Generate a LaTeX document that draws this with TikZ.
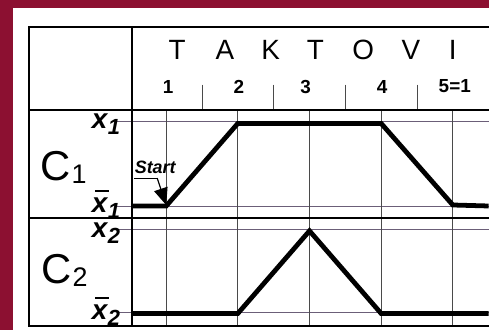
\documentclass[tikz,border=0pt]{standalone}
\usepackage{fontspec}
\setmainfont{Liberation Sans}
\usepackage{xcolor}
\usetikzlibrary{arrows.meta,positioning}
\definecolor{framered}{HTML}{8C1031}
\definecolor{gridgray}{HTML}{4A4A4A}
\definecolor{levelgray}{HTML}{6B5E78}
\newcommand{\lvl}[1]{{\bfseries\itshape x\kern0.02em\raisebox{-0.4ex}{\fontsize{11}{12}\selectfont #1}}}
\newcommand{\nlvl}[1]{{\bfseries\itshape \makebox[0pt][l]{\kern0.12em\rule[0.74em]{0.5em}{0.8pt}}x\kern0.02em\raisebox{-0.4ex}{\fontsize{11}{12}\selectfont #1}}}
\newcommand{\chan}[1]{{\fontsize{21}{24}\selectfont C\kern0.02em\raisebox{-0.15ex}{\fontsize{13.5}{15}\selectfont #1}}}
\tikzset{
  frame/.style={line width=1pt,draw=black},
  sepline/.style={line width=1.3pt,draw=black},
  grid/.style={line width=0.45pt,draw=gridgray},
  level/.style={line width=0.45pt,draw=levelgray},
  wave/.style={line width=2.4pt,draw=black,line join=miter},
  letter/.style={font=\fontsize{14}{16}\selectfont,inner sep=0pt},
  num/.style={font=\fontsize{9.5}{11}\selectfont\bfseries,inner sep=0pt},
  siglbl/.style={anchor=east,inner sep=0pt,font=\fontsize{14}{16}\selectfont},
  chanlbl/.style={inner sep=0pt},
  startlbl/.style={font=\fontsize{9}{11}\selectfont\bfseries\itshape,inner sep=0pt},
  pointer/.style={-{Triangle[length=8.5pt,width=7pt]},line width=0.6pt,draw=black}
}
\begin{document}
\begin{tikzpicture}[x=0.5pt,y=-0.5pt]
  % page and paper
  \fill[framered] (0,0) rectangle (491,332);
  \fill[white] (13,8) rectangle (491,332);
  % level lines
  \foreach \y in {122,207,231,314}
    \draw[level] (118,\y) -- (491,\y);
  % time grid
  \foreach \x in {167,239,311,383,455}
    \draw[grid] (\x,111) -- (\x,328);
  \foreach \x in {203,275,347,419}
    \draw[grid] (\x,85) -- (\x,111);
  % table frame
  \draw[frame] (491,27) -- (29,27) -- (29,328) -- (491,328);
  \draw[frame] (133,27) -- (133,328);
  \draw[frame] (29,111) -- (491,111);
  \draw[sepline] (29,219) -- (491,219);
  % header
  \foreach \x/\c in {178/T,226/A,272/K,317/T,365/O,413/V,455/I}
    \node[letter] at (\x,50) {\c};
  \foreach \x/\n in {169/1,240/2,307/3,384/4,457/5=1}
    \node[num] at (\x,87) {\n};
  % signals
  \draw[wave] (133,207) -- (167,207) -- (239,124) -- (383,124) -- (455,206) -- (491,207);
  \draw[wave] (133,315) -- (239,315) -- (311,232) -- (383,315) -- (491,315);
  % row labels
  \node[chanlbl] (c1) at (64,168) {\chan{1}};
  \node[chanlbl] (c2) at (65,272) {\chan{2}};
  \node[siglbl] (x1) at (121,125) {\lvl{1}};
  \node[siglbl] (nx1) at (121,205) {\nlvl{1}};
  \node[siglbl] (x2) at (121,234) {\lvl{2}};
  \node[siglbl] (nx2) at (121,313) {\nlvl{2}};
  % start marker
  \node[startlbl] (start) at (156,168) {Start};
  \coordinate (ul) at (158,179);
  \coordinate (go) at (167,206);
  \draw[line width=0.6pt] (start.south west |- ul) -- (ul);
  \draw[pointer] (ul) -- (go);
\end{tikzpicture}
\end{document}
